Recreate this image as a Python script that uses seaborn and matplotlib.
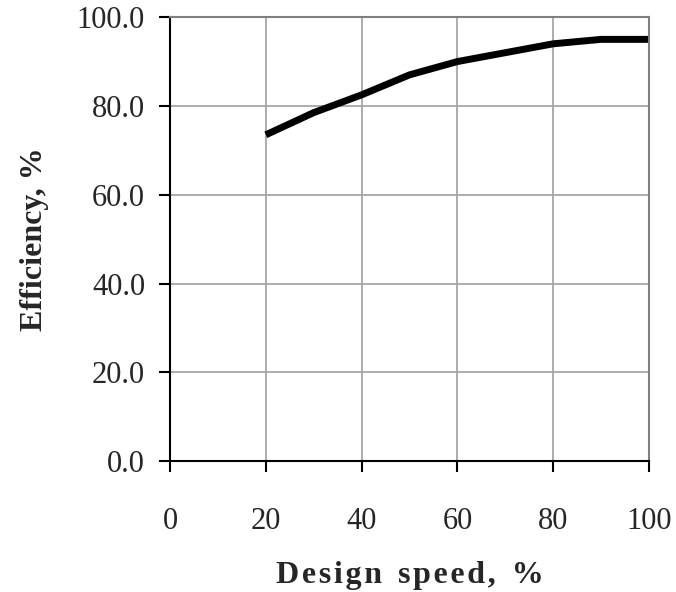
import pandas as pd
import matplotlib
matplotlib.use("Agg")
import matplotlib.pyplot as plt
import seaborn as sns

# Données
design_speed = [20, 30, 40, 50, 60, 70, 80, 90, 100]
efficiency = [73.5, 78.5, 82.5, 87.0, 90.0, 92.0, 94.0, 95.0, 95.0]

x_ticks = [0, 20, 40, 60, 80, 100]
y_ticks = [0, 20, 40, 60, 80, 100]

sns.set_theme(style="whitegrid")
plt.rcParams['font.family'] = ['Liberation Serif', 'DejaVu Serif']

df = pd.DataFrame({'speed': design_speed, 'eff': efficiency})

fig, ax = plt.subplots(figsize=(6.76, 5.92), dpi=100)
fig.subplots_adjust(left=0.2515, right=0.960, top=0.971, bottom=0.221)

sns.lineplot(data=df, x='speed', y='eff', ax=ax, color='black', linewidth=5,
             solid_capstyle='butt')

ax.set_xlim(0, 100)
ax.set_ylim(0, 100)
ax.set_xticks(x_ticks)
ax.set_yticks(y_ticks)
ax.set_xticklabels([str(v) for v in x_ticks])
ax.set_yticklabels([f"{v:.1f}" for v in y_ticks])

ax.grid(True, color='#a6a6a6', linewidth=1.3)
for side in ['left', 'bottom']:
    ax.spines[side].set_color('black')
    ax.spines[side].set_linewidth(1.5)
for side in ['top', 'right']:
    ax.spines[side].set_color('#808080')
    ax.spines[side].set_linewidth(1.5)

ax.tick_params(axis='both', which='major', direction='out', length=8, width=1.5,
               color='black', labelsize=22, left=True, bottom=True)
ax.tick_params(axis='x', pad=25)
ax.tick_params(axis='y', pad=10)

# libellé espacé comme sur l'original
xlab = "D e s i g n  s p e e d ,  %".replace("  ", "\u2002").replace(" ", "\u200a")
ax.set_xlabel(xlab, fontsize=23, fontweight='bold', labelpad=18)
ax.set_ylabel("Efficiency, %", fontsize=23, fontweight='bold', labelpad=20)

fig.savefig("out.png", dpi=100)
